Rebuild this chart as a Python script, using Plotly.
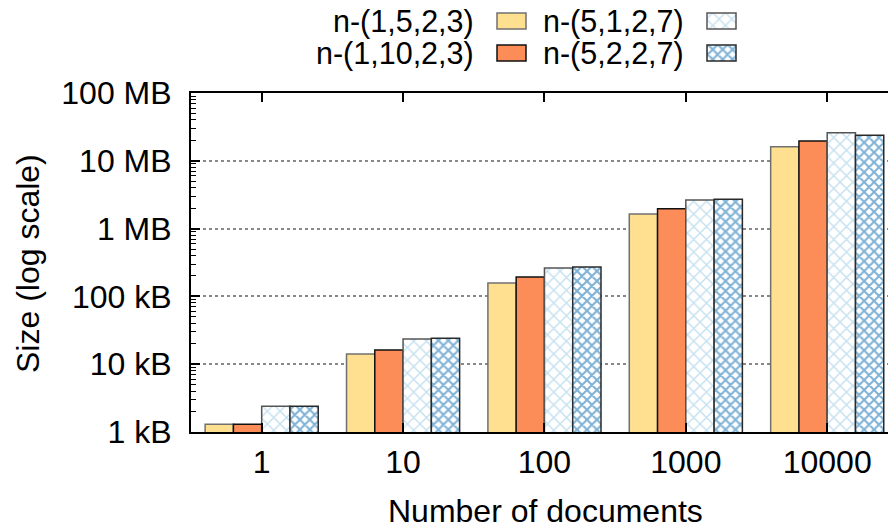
import plotly.graph_objects as go

# Sizes in kB for each number of documents
categories = ["1", "10", "100", "1000", "10000"]
series_names = ["n-(1,5,2,3)", "n-(1,10,2,3)", "n-(5,1,2,7)", "n-(5,2,2,7)"]
size_1_5_2_3 = [1.3, 14.1, 158, 1640, 16150]
size_1_10_2_3 = [1.3, 16.2, 193, 1970, 19600]
size_5_1_2_7 = [2.4, 23.5, 262, 2640, 26000]
size_5_2_2_7 = [2.4, 24.1, 272, 2700, 23800]
series_values = [size_1_5_2_3, size_1_10_2_3, size_5_1_2_7, size_5_2_2_7]

y_tickvals = [1, 10, 100, 1000, 10000, 100000]
y_ticktext = ["1 kB", "10 kB", "100 kB", "1 MB", "10 MB", "100 MB"]

FONT = "Liberation Sans, Arial, Helvetica, sans-serif"
FS = 32          # ticks and axis titles
FS_KEY = 30.5    # key entries
W, H = 888, 528

# Plot-area box in page pixels
PX_L, PX_R, PX_T, PX_B = 191, 888, 93, 432

styles = [
    dict(color="#fee090", line=dict(color="#707070", width=1.5)),
    dict(color="#fc8d59", line=dict(color="#111111", width=1.5)),
    dict(color="#ffffff", line=dict(color="#555555", width=1.5),
         pattern=dict(shape="x", fgcolor="#c6e1f0", bgcolor="#ffffff", size=9, solidity=0.3)),
    dict(color="#ffffff", line=dict(color="#2a2a2a", width=1.5),
         pattern=dict(shape="x", fgcolor="#7fb2d6", bgcolor="#ffffff", size=7, solidity=0.5)),
]

fig = go.Figure()
for name, vals, st in zip(series_names, series_values, styles):
    fig.add_trace(go.Bar(x=categories, y=vals, name=name, marker=st,
                         showlegend=False, xaxis="x", yaxis="y"))

# Key: text right-aligned, swatch to its right, on a page-pixel overlay axis pair
key_rows = [(13, 29), (45, 61), (13, 29), (45, 61)]
key_left = [497, 497, 707, 707]
key_text_right = [476, 476, 686, 686]
annotations = []
for i, (name, st) in enumerate(zip(series_names, styles)):
    top, bot = key_rows[i]
    fig.add_trace(go.Bar(x=[key_left[i]], y=[bot - top], base=[top], width=[29], offset=0,
                         marker=st, showlegend=False, hoverinfo="skip",
                         xaxis="x2", yaxis="y2"))
    annotations.append(dict(x=key_text_right[i], y=(top + bot) / 2 + 0.5, xref="x2", yref="y2",
                            text=name, showarrow=False, xanchor="right", yanchor="middle",
                            font=dict(family=FONT, size=FS_KEY, color="black")))

annotations += [
    dict(text="Number of documents", x=545, y=511, xref="x2", yref="y2",
         showarrow=False, xanchor="center", yanchor="middle",
         font=dict(family=FONT, size=FS)),
    dict(text="Size (log scale)", x=28, y=264, xref="x2", yref="y2",
         showarrow=False, xanchor="center", yanchor="middle", textangle=-90,
         font=dict(family=FONT, size=FS)),
]

minor_vals = [d * 10 ** k for k in range(0, 5) for d in range(2, 10)]

fig.update_layout(
    template="none",
    width=W, height=H,
    margin=dict(l=0, r=0, t=0, b=0, pad=0, autoexpand=False),
    paper_bgcolor="white", plot_bgcolor="rgba(0,0,0,0)",
    showlegend=False,
    barmode="group", bargap=0.2, bargroupgap=0,
    font=dict(family=FONT, size=FS, color="black"),
    xaxis=dict(
        domain=[PX_L / W, PX_R / W], anchor="y", automargin=False,
        type="category", range=[-0.5, 4.43],
        showline=True, linecolor="black", linewidth=2, mirror="allticks",
        ticks="inside", ticklen=9, tickwidth=1.5, tickcolor="black",
        ticklabelstandoff=1, showgrid=False, zeroline=False,
        tickfont=dict(family=FONT, size=FS),
    ),
    yaxis=dict(
        domain=[(H - PX_B) / H, (H - PX_T) / H], anchor="x", automargin=False,
        type="log", range=[0, 5],
        tickmode="array", tickvals=y_tickvals, ticktext=y_ticktext,
        showline=True, linecolor="black", linewidth=2, mirror=False,
        ticks="inside", ticklen=9, tickwidth=1.5, tickcolor="black",
        ticklabelstandoff=11,
        showgrid=True, gridcolor="#888888", griddash="dot", gridwidth=1.5,
        zeroline=False,
        minor=dict(tickmode="array", tickvals=minor_vals, ticks="inside",
                   ticklen=5, tickwidth=1.2, tickcolor="black", showgrid=False),
        tickfont=dict(family=FONT, size=FS),
    ),
    xaxis2=dict(domain=[0, 1], range=[0, W], anchor="y2", automargin=False,
                visible=False, fixedrange=True),
    yaxis2=dict(domain=[0, 1], range=[H, 0], anchor="x2", automargin=False,
                visible=False, fixedrange=True),
    annotations=annotations,
)

fig.write_html("out.html")
